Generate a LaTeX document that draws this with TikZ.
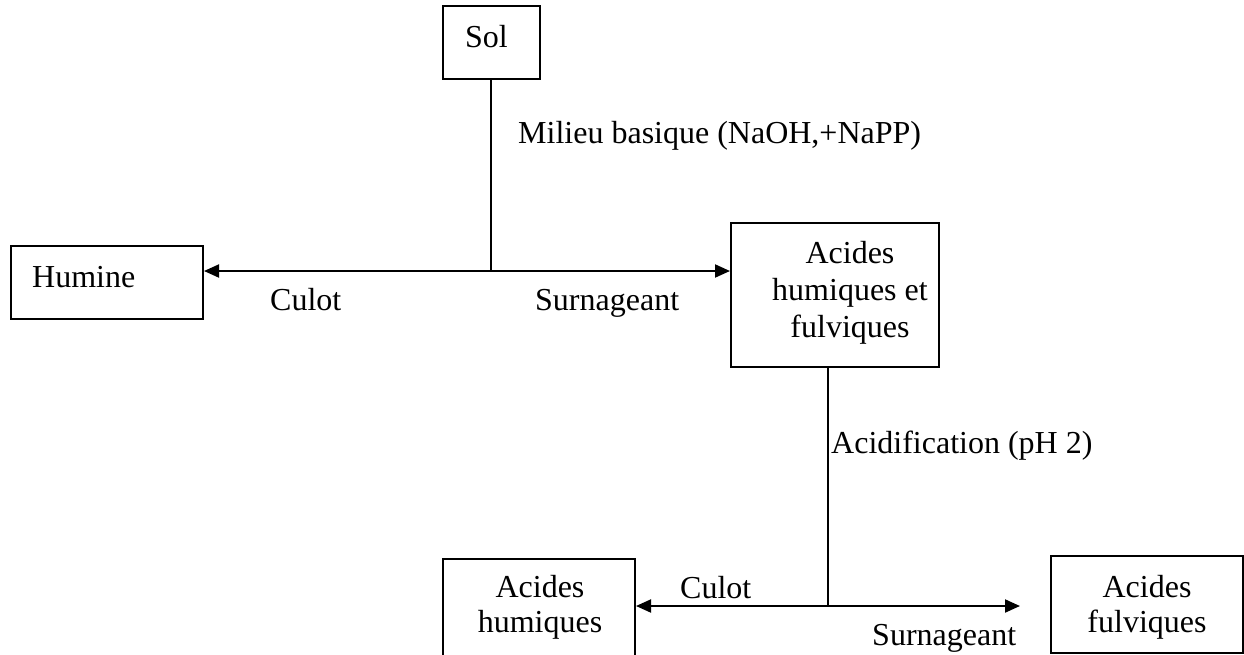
\documentclass[tikz,border=0pt]{standalone}
\usepackage{fontspec}
\setmainfont{Liberation Serif}
\usetikzlibrary{arrows.meta}
\begin{document}
\begin{tikzpicture}[x=1pt,y=-1pt,
  box/.style={draw=black, line width=2pt, inner sep=0pt, rectangle},
  lbl/.style={inner sep=0pt, font=\fontsize{32}{37}\selectfont},
  conn/.style={draw=black, line width=2pt},
  vconn/.style={draw=black, line width=1.6pt},
  arr/.style={conn, -{Triangle[length=15pt,width=13pt]}}]
\clip (0,0) rectangle (1244,654);
\fill[white] (0,0) rectangle (1244,654);
% boxes
\node[box, minimum width=97pt, minimum height=73pt] (sol) at (491,42.5) {};
\node[box, minimum width=192pt, minimum height=73pt] (humine) at (107,282.5) {};
\node[box, minimum width=208pt, minimum height=144pt] (ahf) at (835,295) {};
\node[box, minimum width=192pt, minimum height=130pt] (ah) at (539,624) {};
\node[box, minimum width=192pt, minimum height=97pt] (af) at (1147,604.5) {};
% box texts
\node[lbl, anchor=base west] (tsol) at (465,47) {Sol};
\node[lbl, anchor=base west] (thum) at (32,287) {Humine};
\node[lbl, anchor=base, align=center] (tahf) at (850,337) {Acides\\humiques et\\fulviques};
\node[lbl, anchor=base, align=center, font=\fontsize{32}{34.5}\selectfont] (tah) at (540,632) {Acides\\humiques};
\node[lbl, anchor=base, align=center, font=\fontsize{32}{34.5}\selectfont] (taf) at (1147,632) {Acides\\fulviques};
% labels
\node[lbl, anchor=base west] (lmil) at (518,143) {Milieu basique (NaOH,+NaPP)};
\node[lbl, anchor=base west] (lcul1) at (270,310) {Culot};
\node[lbl, anchor=base west] (lsur1) at (535,310) {Surnageant};
\node[lbl, anchor=base west] (lacid) at (831,453) {Acidification (pH 2)};
\node[lbl, anchor=base west] (lcul2) at (680,598) {Culot};
\node[lbl, anchor=base west] (lsur2) at (872,645) {Surnageant};
% connectors
\coordinate (j1) at (491,271);
\coordinate (j2) at (828,606);
\coordinate (e2) at (1020,606);
\draw[vconn] (sol.south) -- (j1);
\draw[arr] (j1) -- (j1 -| humine.east);
\draw[arr] (j1) -- (j1 -| ahf.west);
\draw[vconn] (j2 |- ahf.south) -- (j2);
\draw[arr] (j2) -- (j2 -| ah.east);
\draw[arr] (j2) -- (e2);
\end{tikzpicture}
\end{document}
